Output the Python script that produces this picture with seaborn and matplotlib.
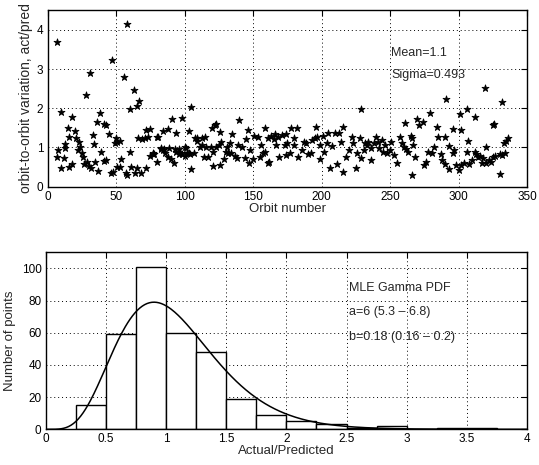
import numpy as np
import pandas as pd
import matplotlib
matplotlib.use("Agg")
import matplotlib.pyplot as plt
import seaborn as sns
from math import gamma

# ---------------- data ----------------
orbit = [7, 7, 8, 10, 10, 12, 13, 13, 15, 16, 16, 18, 18, 20, 21, 22, 23, 24, 25, 26,
         27, 28, 29, 30, 31, 32, 33, 34, 35, 36, 37, 38, 39, 41, 41, 43, 43, 45, 46, 47,
         48, 49, 50, 51, 51, 53, 53, 54, 56, 57,
         58, 58, 60, 60, 61, 63, 64, 65, 65, 66, 67, 68, 69, 71, 72, 72, 73, 75, 75, 77,
         77, 78, 80, 80, 81, 83, 83, 84, 84, 85, 86, 88, 88, 89, 90, 91, 92, 93, 94, 94,
         96, 96, 97, 98, 98, 100, 100, 101, 102, 103, 103, 104, 105, 105, 107, 108, 109, 109, 111, 113,
         113, 114,
         115, 116, 117, 119, 120, 121, 121, 122, 123, 123, 125, 126, 126, 127, 129, 130, 131, 132, 133, 134,
         135, 137, 138, 139, 140, 142, 144, 145, 146, 147, 148, 150, 151, 154, 155, 156, 157, 159, 159, 161,
         161, 162, 163, 165, 166, 167, 168, 169, 171, 173, 174,
         174, 175, 177, 178, 180, 180, 182, 183, 186, 187, 189, 190, 192, 193, 195, 196, 197, 199, 199, 201,
         202, 204, 205, 206, 208, 210, 211, 213, 214, 216, 216, 218, 220, 222, 223, 225, 226, 228, 229, 229,
         231, 232,
         233, 234, 236, 236, 238, 240, 241, 242, 244, 245, 246, 248, 250, 251, 253, 255, 257, 259, 260, 261,
         262, 263, 265, 266, 266, 267, 268, 270, 271, 274, 275, 276, 278, 279, 281, 282, 284, 285, 287, 288,
         290, 290, 291, 293, 293, 296, 296, 297, 298, 300, 301, 302, 302, 304, 306, 306, 307, 308, 310, 312,
         312, 313, 314, 316, 317, 318, 319, 320, 320, 322, 324, 325, 325, 326, 327, 330, 330, 332, 332, 333,
         334, 335, 336]
ratio = [3.68, 0.75, 0.93, 1.90, 0.47, 0.72, 1.10, 0.98, 1.49, 1.28, 0.51, 1.78, 0.58, 1.43, 1.23, 0.93, 1.13, 1.02, 0.85, 0.77,
         0.58, 2.34, 0.64, 0.53, 2.91, 0.48, 1.31, 1.08, 0.62, 1.65, 0.40, 1.87, 0.89, 1.61, 0.66, 1.58, 0.68, 1.34, 0.34, 3.24,
         0.38, 1.12, 1.25, 0.51, 1.14, 1.17, 0.51, 0.70, 2.79, 0.34,
         4.15, 0.30, 1.97, 0.89, 0.51, 2.47, 0.35, 2.07, 0.47, 1.25, 2.19, 0.34, 1.22, 1.23, 0.47, 1.45, 1.28, 0.78, 1.48, 0.83,
         0.85, 0.83, 1.26, 0.64, 1.26, 0.96, 0.98, 1.43, 0.94, 0.95, 0.87, 1.47, 0.76, 0.98, 0.70, 1.72, 0.60, 0.95, 0.89, 1.36,
         0.95, 0.83, 0.87, 0.84, 1.74, 0.79, 1.01, 0.98, 0.87, 1.43, 0.87, 0.84, 2.04, 0.45, 0.87, 1.23, 1.25, 1.17, 1.02, 1.23,
         1.06, 0.76,
         1.26, 1.02, 0.77, 1.02, 1.51, 0.89, 0.53, 1.57, 1.60, 1.02, 1.06, 1.40, 0.55, 1.15, 0.70, 0.89, 1.02, 0.87, 1.11, 0.85,
         1.34, 0.78, 0.72, 1.06, 1.70, 1.00, 0.74, 1.21, 1.45, 0.60, 0.94, 0.70, 1.30, 1.28, 0.77, 1.06, 0.87, 1.51, 0.89, 1.23,
         0.60, 0.62, 1.30, 1.21, 1.34, 1.06, 1.28, 0.77, 1.32, 1.06, 0.81,
         1.34, 1.11, 0.87, 1.51, 1.06, 1.23, 1.51, 0.77, 0.94, 1.15, 1.11, 0.83, 0.85, 1.19, 1.23, 1.53, 1.26, 1.06, 0.70, 1.30,
         0.89, 1.11, 1.36, 0.47, 1.04, 1.38, 0.58, 1.36, 1.15, 1.53, 0.38, 0.77, 0.94, 1.28, 1.11, 0.47, 0.87, 1.23, 0.72, 1.99,
         0.94, 1.11,
         1.06, 1.15, 0.98, 0.68, 1.11, 1.28, 1.15, 0.98, 1.19, 0.89, 1.06, 0.85, 0.94, 1.15, 0.81, 0.60, 1.28, 1.11, 1.02, 1.62,
         0.96, 0.89, 1.30, 1.23, 0.30, 1.06, 0.77, 1.72, 1.57, 1.66, 0.55, 0.64, 0.89, 1.87, 0.85, 1.02, 1.53, 1.28, 0.83, 0.68,
         1.28, 0.58, 2.23, 1.04, 0.44, 1.46, 0.85, 0.94, 0.55, 0.43, 1.86, 1.44, 0.55, 0.60, 1.97, 0.89, 1.17, 0.58, 0.68, 1.77,
         0.89, 0.83, 0.76, 0.78, 0.60, 0.72, 2.53, 1.02, 0.60, 0.68, 0.64, 0.76, 1.57, 1.60, 0.78, 0.32, 0.83, 2.17, 0.80, 1.11,
         0.87, 1.17, 1.23]

hist_edges = [0.25, 0.5, 0.75, 1.0, 1.25, 1.5, 1.75, 2.0, 2.25, 2.5, 2.75, 3.0, 3.25, 3.5, 3.75]
hist_counts = [15, 59, 101, 60, 48, 19, 9, 5, 3, 1, 2, 0, 1, 1]

gamma_a = 6.0
gamma_b = 0.18

top_xticks = [0, 50, 100, 150, 200, 250, 300, 350]
top_yticks = [0, 1, 2, 3, 4]
bot_xticks = [0, 0.5, 1, 1.5, 2, 2.5, 3, 3.5, 4]
bot_xticklabels = ["0", "0.5", "1", "1.5", "2", "2.5", "3", "3.5", "4"]
bot_yticks = [0, 20, 40, 60, 80, 100]

# ---------------- style ----------------
sns.set_theme(style="white")
plt.rcParams["font.family"] = ["Liberation Sans", "DejaVu Sans"]
plt.rcParams["axes.edgecolor"] = "black"
plt.rcParams["axes.linewidth"] = 1.0

W, H = 539, 465
fig = plt.figure(figsize=(W / 100, H / 100), dpi=100)
fig.patch.set_facecolor("white")


def ax_rect(l, r, t, b):
    return [l / W, 1 - b / H, (r - l) / W, (b - t) / H]


ax1 = fig.add_axes(ax_rect(47.5, 527, 10.3, 186.7))
ax2 = fig.add_axes(ax_rect(45.7, 527, 252.2, 429.3))

grid_kw = dict(color="black", linestyle=(0, (1, 3)), linewidth=0.7)


def style_axes(ax):
    ax.tick_params(direction="in", length=4, width=0.8, top=True, right=True,
                   labelsize=8.5, colors="black", pad=3)
    ax.grid(True, **grid_kw)
    ax.set_axisbelow(True)
    for s in ax.spines.values():
        s.set_visible(True)
        s.set_color("black")
        s.set_linewidth(1.0)
    ax.set_facecolor("white")


# ---------------- top scatter ----------------
df_sc = pd.DataFrame({"orbit": orbit, "ratio": ratio})
sns.scatterplot(data=df_sc, x="orbit", y="ratio", marker="*", s=28, color="black",
                edgecolor="black", linewidth=0.6, ax=ax1, zorder=3)
ax1.set_xlim(0, 350)
ax1.set_ylim(0, 4.5)
ax1.set_xticks(top_xticks)
ax1.set_yticks(top_yticks)
ax1.set_xticklabels([str(v) for v in top_xticks])
ax1.set_yticklabels([str(v) for v in top_yticks])
style_axes(ax1)
ax1.set_xlabel("Orbit number", fontsize=9.5, labelpad=0)
ax1.set_ylabel("orbit-to-orbit variation, act/pred", fontsize=10, labelpad=3)
ax1.text(251, 3.41, "Mean=1.1", fontsize=9, va="center", ha="left")
ax1.text(251, 2.85, "Sigma=0.493", fontsize=9, va="center", ha="left")

# ---------------- bottom histogram ----------------
centers = [(hist_edges[i] + hist_edges[i + 1]) / 2 for i in range(len(hist_counts))]
df_h = pd.DataFrame({"x": centers, "w": hist_counts})
sns.histplot(data=df_h, x="x", weights="w", bins=hist_edges, stat="count",
             color="white", edgecolor="black", linewidth=1.0, alpha=1.0, ax=ax2, zorder=2)

n_tot = sum(hist_counts)
bw = hist_edges[1] - hist_edges[0]
xs = np.linspace(0, 4, 400)
pdf = xs ** (gamma_a - 1) * np.exp(-xs / gamma_b) / (gamma(gamma_a) * gamma_b ** gamma_a)
df_c = pd.DataFrame({"x": xs, "y": n_tot * bw * pdf})
sns.lineplot(data=df_c, x="x", y="y", color="black", linewidth=1.1, ax=ax2, zorder=3)

ax2.set_xlim(0, 4)
ax2.set_ylim(0, 110)
ax2.set_xticks(bot_xticks)
ax2.set_xticklabels(bot_xticklabels)
ax2.set_yticks(bot_yticks)
ax2.set_yticklabels([str(v) for v in bot_yticks])
style_axes(ax2)
ax2.set_xlabel("Actual/Predicted", fontsize=9.5, labelpad=0)
ax2.set_ylabel("Number of points", fontsize=9.5, labelpad=4)
ax2.text(2.52, 87.6, "MLE Gamma PDF", fontsize=9, va="center", ha="left")
ax2.text(2.52, 73.1, "a=6 (5.3 \u2013 6.8)", fontsize=9, va="center", ha="left")
ax2.text(2.52, 57.6, "b=0.18 (0.16 \u2013 0.2)", fontsize=9, va="center", ha="left")

fig.savefig("out.png", dpi=100, facecolor="white")
